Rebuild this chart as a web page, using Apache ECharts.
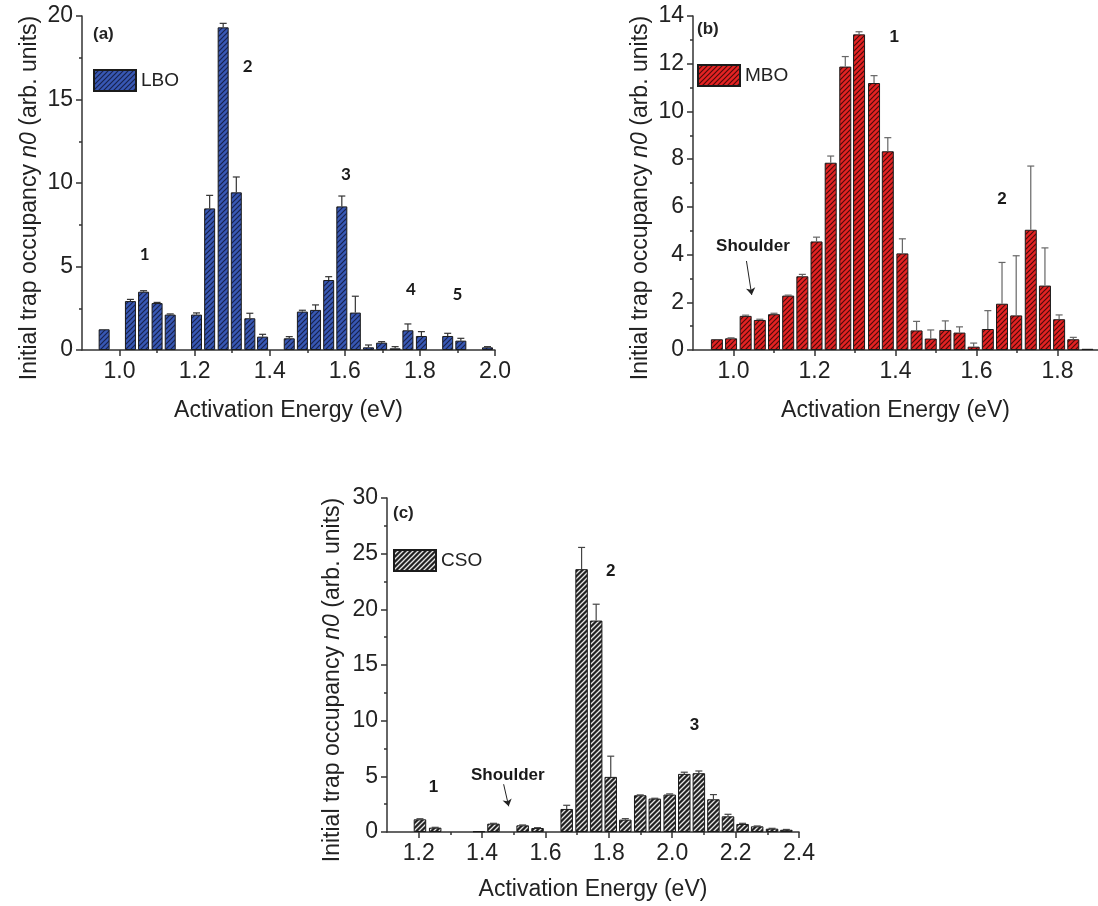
<!DOCTYPE html>
<html><head><meta charset="utf-8">
<script src="https://cdn.jsdelivr.net/npm/echarts@6/dist/echarts.min.js"></script>
<style>html,body{margin:0;padding:0;background:#fff;overflow:hidden}#c{width:1098px;height:906px}</style>
</head><body><div id="c"></div>
<script>
// ---------- data ----------
// Panel (a) LBO
const energiesA = [0.959, 1.029, 1.064, 1.100, 1.135, 1.205, 1.240, 1.276, 1.311, 1.347, 1.381, 1.452, 1.487, 1.522, 1.557, 1.592, 1.628, 1.663, 1.698, 1.734, 1.768, 1.804, 1.874, 1.909, 1.980];
const valuesA   = [1.24, 2.93, 3.49, 2.81, 2.12, 2.12, 8.48, 19.32, 9.44, 1.90, 0.80, 0.70, 2.30, 2.40, 4.19, 8.60, 2.24, 0.16, 0.44, 0.10, 1.18, 0.84, 0.84, 0.56, 0.16];
const errorsA   = [0, 0.10, 0.06, 0.04, 0.04, 0.10, 0.78, 0.24, 0.92, 0.30, 0.14, 0.10, 0.08, 0.30, 0.20, 0.62, 0.98, 0.14, 0.06, 0.10, 0.38, 0.26, 0.16, 0.14, 0.04];
// Panel (b) MBO
const energiesB = [0.959, 0.994, 1.030, 1.065, 1.100, 1.135, 1.170, 1.205, 1.240, 1.276, 1.310, 1.347, 1.381, 1.417, 1.452, 1.487, 1.523, 1.558, 1.593, 1.628, 1.663, 1.698, 1.734, 1.769, 1.804, 1.839, 1.874];
const valuesB   = [0.45, 0.49, 1.43, 1.26, 1.50, 2.28, 3.09, 4.55, 7.85, 11.88, 13.23, 11.19, 8.33, 4.05, 0.82, 0.48, 0.84, 0.73, 0.14, 0.88, 1.94, 1.45, 5.04, 2.70, 1.29, 0.45, 0.05];
const errorsB   = [0, 0.02, 0.03, 0.03, 0.04, 0.02, 0.08, 0.18, 0.28, 0.42, 0.11, 0.31, 0.57, 0.61, 0.38, 0.36, 0.38, 0.24, 0.15, 0.77, 1.73, 2.50, 2.67, 1.58, 0.18, 0.08, 0];
// Panel (c) CSO
const energiesC = [1.204, 1.252, 1.390, 1.436, 1.528, 1.575, 1.667, 1.714, 1.760, 1.806, 1.852, 1.899, 1.945, 1.992, 2.038, 2.084, 2.130, 2.176, 2.222, 2.268, 2.315, 2.360];
const valuesC   = [1.14, 0.39, 0.06, 0.75, 0.60, 0.36, 2.07, 23.61, 18.99, 4.95, 1.11, 3.30, 3.00, 3.36, 5.22, 5.28, 2.94, 1.41, 0.72, 0.51, 0.30, 0.20];
const errorsC   = [0.05, 0.03, 0, 0.03, 0.03, 0.03, 0.33, 1.95, 1.47, 1.86, 0.09, 0.03, 0.03, 0.06, 0.15, 0.20, 0.42, 0.18, 0.06, 0.03, 0.03, 0.03];

// tick labels
const xTicksA = [1.0, 1.2, 1.4, 1.6, 1.8, 2.0];
const xMinorA = [1.1, 1.3, 1.5, 1.7, 1.9];
const xTicksB = [1.0, 1.2, 1.4, 1.6, 1.8];
const xMinorB = [1.1, 1.3, 1.5, 1.7];
const xTicksC = [1.2, 1.4, 1.6, 1.8, 2.0, 2.2, 2.4];
const xMinorC = [1.3, 1.5, 1.7, 1.9, 2.1, 2.3];

// annotations [energy, value, text]
const peaksA = [[1.067, 5.7, '1'], [1.341, 17.0, '2'], [1.603, 10.5, '3'], [1.776, 3.65, '4'], [1.900, 3.3, '5']];
const peaksB = [[1.397, 13.1, '1'], [1.663, 6.3, '2'], [1.048, 4.36, 'Shoulder']];
const peaksC = [[1.247, 4.0, '1'], [1.806, 23.4, '2'], [2.070, 9.6, '3'], [1.481, 5.1, 'Shoulder']];
const arrowB = [[1.032, 3.73], [1.045, 2.31]];
const arrowC = [[1.468, 4.29], [1.484, 2.31]];

// ---------- styling helpers ----------
function hatch(bg, line, lw, s) {
  const c = document.createElement('canvas');
  c.width = s; c.height = s;
  const g = c.getContext('2d');
  g.fillStyle = bg; g.fillRect(0, 0, s, s);
  g.strokeStyle = line; g.lineWidth = lw;
  g.beginPath();
  g.moveTo(-1, 1); g.lineTo(1, -1);
  g.moveTo(0, s); g.lineTo(s, 0);
  g.moveTo(s - 1, s + 1); g.lineTo(s + 1, s - 1);
  g.stroke();
  return { image: c, repeat: 'repeat' };
}
const patA = hatch('#3858b4', '#17224d', 1.2, 5);
const patB = hatch('#e42323', '#4d0b0b', 1.2, 5);
const patC = hatch('#222222', '#e6e6e6', 1.3, 5);

const FONT = 'Liberation Sans, Arial, sans-serif';
const axisColor = '#333';
const FS = 23;

function xAxisMain(gi, min, max, ticks, gap) {
  return {
    type: 'value', gridIndex: gi, min: min, max: max, position: 'bottom',
    axisLine: { show: true, onZero: false, lineStyle: { color: axisColor, width: 1.5 } },
    axisTick: { show: true, length: 6, customValues: ticks, lineStyle: { color: axisColor, width: 1.5 } },
    axisLabel: { customValues: ticks, fontSize: FS, color: '#222', fontFamily: FONT, margin: 10,
      formatter: v => Number(v).toFixed(1) },
    splitLine: { show: false },
    name: 'Activation Energy (eV)', nameLocation: 'middle', nameGap: gap,
    nameTextStyle: { fontSize: FS, color: '#222', fontFamily: FONT }
  };
}
function xAxisMinor(gi, min, max, ticks) {
  return {
    type: 'value', gridIndex: gi, min: min, max: max, position: 'bottom',
    axisLine: { show: false },
    axisTick: { show: true, length: 3, customValues: ticks, lineStyle: { color: axisColor, width: 1.5 } },
    axisLabel: { show: false },
    splitLine: { show: false }
  };
}
function yAxis(gi, max, interval, gap) {
  return {
    type: 'value', gridIndex: gi, min: 0, max: max, interval: interval,
    axisLine: { show: true, lineStyle: { color: axisColor, width: 1.5 } },
    axisTick: { show: true, length: 6, lineStyle: { color: axisColor, width: 1.5 } },
    minorTick: { show: true, splitNumber: 2, length: 3, lineStyle: { color: axisColor, width: 1.5 } },
    axisLabel: { fontSize: FS, color: '#222', fontFamily: FONT, margin: 9 },
    splitLine: { show: false },
    name: '{n|Initial trap occupancy }{i|n0}{n| (arb. units)}',
    nameLocation: 'middle', nameGap: gap,
    nameTextStyle: { fontFamily: FONT, color: '#222', padding: [0, 30, 0, 0],
      rich: { n: { fontSize: FS, fontFamily: FONT, color: '#222' },
              i: { fontSize: FS, fontFamily: FONT, color: '#222', fontStyle: 'italic' } } }
  };
}
function barSeries(name, gi, xs, ys, pat, bw) {
  return {
    name: name, type: 'bar', xAxisIndex: gi, yAxisIndex: gi,
    barWidth: bw, data: xs.map((x, i) => [x, ys[i]]),
    itemStyle: { color: pat, borderColor: '#1b1b1b', borderWidth: 1 },
    emphasis: { disabled: true }, z: 2
  };
}
function errSeries(gi, xs, ys, es, color) {
  return {
    type: 'custom', xAxisIndex: gi, yAxisIndex: gi, z: 3, silent: true,
    data: xs.map((x, i) => [x, ys[i], es[i]]).filter(d => d[2] > 0),
    renderItem: function (params, api) {
      const x = api.value(0), y = api.value(1), e = api.value(2);
      const p0 = api.coord([x, y]);
      const p1 = api.coord([x, y + e]);
      const cap = 3.5;
      const st = { stroke: color, lineWidth: 1.2 };
      return { type: 'group', children: [
        { type: 'line', shape: { x1: p0[0], y1: p0[1], x2: p1[0], y2: p1[1] }, style: st },
        { type: 'line', shape: { x1: p1[0] - cap, y1: p1[1], x2: p1[0] + cap, y2: p1[1] }, style: st }
      ] };
    }
  };
}
function textSeries(gi, pts, font, size) {
  return {
    type: 'scatter', xAxisIndex: gi, yAxisIndex: gi, symbolSize: 1, silent: true,
    itemStyle: { color: 'rgba(0,0,0,0)', opacity: 1 }, z: 5,
    data: pts.map(p => ({ value: [p[0], p[1]], label: { formatter: p[2] } })),
    label: { show: true, position: 'inside', fontSize: size, fontWeight: 'bold', color: '#1a1a1a',
      fontFamily: font, opacity: 1, textBorderWidth: 0 }
  };
}
function arrowSeries(gi, pts) {
  return {
    type: 'lines', coordinateSystem: 'cartesian2d', xAxisIndex: gi, yAxisIndex: gi, silent: true, z: 5,
    symbol: ['none', 'arrow'], symbolSize: 7,
    lineStyle: { color: '#222', width: 1, opacity: 1 },
    data: [{ coords: pts }]
  };
}
function legendAt(name, left, top) {
  return {
    data: [name], left: left, top: top, itemWidth: 42, itemHeight: 21, icon: 'rect',
    itemGap: 0, padding: 0, selectedMode: false,
    textStyle: { fontSize: 19, color: '#222', fontFamily: FONT, padding: [0, 0, 0, 0] }
  };
}
function tag(text, left, top) {
  return { type: 'text', left: left, top: top,
    style: { text: text, fontSize: 17, fontWeight: 'bold', fill: '#222', fontFamily: FONT } };
}

const chart = echarts.init(document.getElementById('c'), null, { renderer: 'canvas' });
chart.setOption({
  backgroundColor: '#fff',
  animation: false,
  grid: [
    { left: 82, top: 16, width: 413, height: 334 },
    { left: 693, top: 16, width: 412.5, height: 334 },
    { left: 387, top: 498, width: 412, height: 334 }
  ],
  xAxis: [
    xAxisMain(0, 0.9, 2.0, xTicksA, 49),
    xAxisMain(1, 0.9, 1.9, xTicksB, 49),
    xAxisMain(2, 1.1, 2.4, xTicksC, 46),
    xAxisMinor(0, 0.9, 2.0, xMinorA),
    xAxisMinor(1, 0.9, 1.9, xMinorB),
    xAxisMinor(2, 1.1, 2.4, xMinorC)
  ],
  yAxis: [yAxis(0, 20, 5, 41), yAxis(1, 14, 2, 41), yAxis(2, 30, 5, 43)],
  legend: [legendAt('LBO', 93, 69), legendAt('MBO', 697, 64), legendAt('CSO', 393, 549)],
  graphic: [tag('(a)', 93, 26), tag('(b)', 697, 21), tag('(c)', 393, 505)],
  series: [
    barSeries('LBO', 0, energiesA, valuesA, patA, 11),
    barSeries('MBO', 1, energiesB, valuesB, patB, 12),
    barSeries('CSO', 2, energiesC, valuesC, patC, 12.5),
    errSeries(0, energiesA, valuesA, errorsA, '#333'),
    errSeries(1, energiesB, valuesB, errorsB, '#666'),
    errSeries(2, energiesC, valuesC, errorsC, '#444'),
    textSeries(0, peaksA, 'Lato, Open Sans, sans-serif', 17),
    textSeries(1, peaksB, FONT, 17),
    textSeries(2, peaksC, FONT, 17),
    arrowSeries(1, arrowB),
    arrowSeries(2, arrowC)
  ]
});
</script>
</body></html>
